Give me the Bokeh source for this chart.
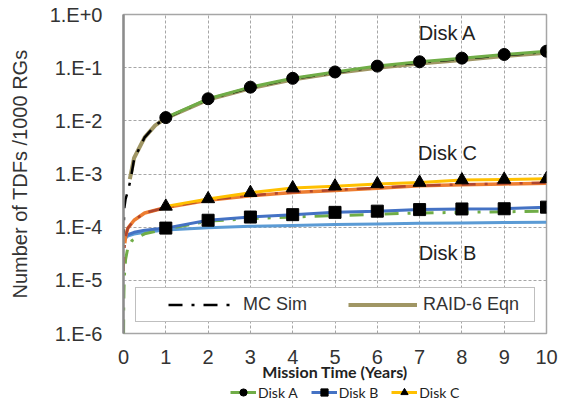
from bokeh.plotting import figure
from bokeh.layouts import column
from bokeh.models import Range1d, FixedTicker, Legend, LegendItem, Label
from bokeh.embed import file_html
from bokeh.resources import INLINE

# ---------------- data ----------------
x_ticks = [0, 1, 2, 3, 4, 5, 6, 7, 8, 9, 10]
y_ticks = [1e-6, 1e-5, 1e-4, 1e-3, 1e-2, 1e-1, 1.0]
y_tick_labels = ["1.E-6", "1.E-5", "1.E-4", "1.E-3", "1.E-2", "1.E-1", "1.E+0"]

years = [1, 2, 3, 4, 5, 6, 7, 8, 9, 10]

# Disk A
a_marker_y = [0.0115, 0.026, 0.043, 0.063, 0.083, 0.107, 0.129, 0.151, 0.177, 0.204]
a_eqn_t = [0.15, 0.25, 0.5, 0.75, 1, 2, 3, 4, 5, 6, 7, 8, 9, 10]
a_eqn_y = [8e-4, 2e-3, 4.9e-3, 8.2e-3, 0.0112, 0.025, 0.041, 0.060, 0.079, 0.100, 0.120, 0.140, 0.165, 0.190]
a_mc_t = [0.003, 0.01, 0.02, 0.05, 0.1, 0.17, 0.25, 0.5, 0.75, 1, 2, 3, 4, 5, 6, 7, 8, 9, 10]
a_mc_y = [5e-5, 1.3e-4, 2.3e-4, 3.4e-4, 4.6e-4, 8e-4, 1.9e-3, 4.9e-3, 8.2e-3, 0.0113,
          0.0255, 0.042, 0.062, 0.081, 0.104, 0.125, 0.147, 0.172, 0.198]

# Disk B
b_line_t = [0.05, 0.1, 0.25, 0.5, 1, 2, 3, 4, 5, 6, 7, 8, 9, 10]
b_line_y = [6.5e-5, 7.2e-5, 8.0e-5, 8.8e-5, 9.6e-5, 1.35e-4, 1.55e-4, 1.72e-4, 1.9e-4,
            2.0e-4, 2.14e-4, 2.2e-4, 2.22e-4, 2.38e-4]
b_marker_y = [9.6e-5, 1.35e-4, 1.55e-4, 1.72e-4, 1.9e-4, 2.0e-4, 2.14e-4, 2.2e-4, 2.22e-4, 2.38e-4]
b_eqn_t = [0.05, 0.1, 0.25, 0.5, 1, 2, 3, 4, 5, 6, 7, 8, 9, 10]
b_eqn_y = [6.2e-5, 6.8e-5, 7.4e-5, 8.0e-5, 8.8e-5, 9.8e-5, 1.04e-4, 1.08e-4, 1.12e-4,
           1.15e-4, 1.18e-4, 1.2e-4, 1.22e-4, 1.24e-4]
b_mc_t = [0.002, 0.005, 0.01, 0.02, 0.05, 0.1, 0.2, 0.5, 1, 2, 3, 4, 5, 6, 7, 8, 9, 10]
b_mc_y = [1e-6, 3e-6, 6e-6, 1.2e-5, 2.5e-5, 4e-5, 5.6e-5, 7.5e-5, 9.2e-5, 1.3e-4, 1.45e-4,
          1.55e-4, 1.65e-4, 1.75e-4, 1.85e-4, 1.9e-4, 1.95e-4, 2.0e-4]

# Disk C
c_marker_y = [2.46e-4, 3.4e-4, 4.45e-4, 5.45e-4, 5.9e-4, 6.5e-4, 6.9e-4, 7.7e-4, 7.9e-4, 8.1e-4]
c_eqn_t = [0.03, 0.05, 0.1, 0.25, 0.5, 1, 2, 3, 4, 5, 6, 7, 8, 9, 10]
c_eqn_y = [5e-5, 6.7e-5, 9.5e-5, 1.35e-4, 1.85e-4, 2.35e-4, 3.2e-4, 3.9e-4, 4.5e-4, 4.9e-4,
           5.4e-4, 6.0e-4, 6.3e-4, 6.5e-4, 6.7e-4]
c_mc_t = [0.003, 0.01, 0.03, 0.05, 0.1, 0.25, 0.5, 1, 2, 3, 4, 5, 6, 7, 8, 9, 10]
c_mc_y = [1.5e-5, 2.5e-5, 5e-5, 6.7e-5, 9.5e-5, 1.35e-4, 1.85e-4, 2.35e-4, 3.25e-4, 3.95e-4,
          4.55e-4, 5.0e-4, 5.5e-4, 6.05e-4, 6.35e-4, 6.6e-4, 6.85e-4]

legend_labels = ["Disk A", "Disk B", "Disk C"]

# ---------------- styling ----------------
GREEN = "#70AD47"
KHAKI = "#A09664"
BLUE = "#4472C4"
LBLUE = "#5B9BD5"
GOLD = "#FFC000"
ORANGE = "#ED7D31"
DRED = "#B0462E"
TXT = "#333333"
DASHDOT = "14 9 3 9"

p = figure(width=574, height=383, x_range=Range1d(0, 10), y_range=Range1d(1e-6, 1),
           y_axis_type="log", output_backend="svg", toolbar_location=None,
           min_border_left=123, min_border_right=28, min_border_top=14, min_border_bottom=50)
p.background_fill_color = "white"
p.border_fill_color = "white"
p.outline_line_color = "#A6A6A6"
p.outline_line_width = 1.5

# grids
p.xgrid.ticker = FixedTicker(ticks=x_ticks)
p.ygrid.ticker = FixedTicker(ticks=y_ticks)
for g in (p.xgrid, p.ygrid):
    g.grid_line_color = "#A6A6A6"
    g.grid_line_dash = "3 2"
    g.grid_line_width = 1

# axes
p.xaxis.ticker = FixedTicker(ticks=x_ticks)
p.yaxis.ticker = FixedTicker(ticks=y_ticks)
p.yaxis.major_label_overrides = dict(zip(y_ticks, y_tick_labels))
for ax in (p.xaxis, p.yaxis):
    ax.major_tick_in = 0
    ax.major_tick_out = 0
    ax.minor_tick_in = 0
    ax.minor_tick_out = 0
    ax.major_label_text_font = "Liberation Sans"
    ax.major_label_text_font_size = "20px"
    ax.major_label_text_color = TXT
p.xaxis.axis_line_color = None
p.yaxis.axis_line_color = "#8C8C8C"
p.yaxis.axis_line_width = 2.5
p.xaxis.major_label_standoff = 16
p.yaxis.major_label_standoff = 21

p.yaxis.axis_label = "Number of TDFs /1000 RGs"
p.yaxis.axis_label_text_font = "Liberation Sans"
p.yaxis.axis_label_text_font_size = "20px"
p.yaxis.axis_label_text_font_style = "normal"
p.yaxis.axis_label_text_color = TXT
p.yaxis.axis_label_standoff = 16

p.xaxis.axis_label = "Mission Time (Years)"
p.xaxis.axis_label_text_font = "Lato"
p.xaxis.axis_label_text_font_size = "16px"
p.xaxis.axis_label_text_font_style = "bold"
p.xaxis.axis_label_text_color = "#222222"
p.xaxis.axis_label_standoff = -5

# ---------------- lines ----------------
# Disk A
r_a_eqn = p.line(a_eqn_t, a_eqn_y, line_color=KHAKI, line_width=4)
r_a_mc = p.line(a_mc_t, a_mc_y, line_color="black", line_width=2.5, line_dash=DASHDOT)
p.line(years, a_marker_y, line_color=GREEN, line_width=3)

# Disk B
p.line(b_eqn_t, b_eqn_y, line_color=LBLUE, line_width=3)
p.line(b_mc_t, b_mc_y, line_color=GREEN, line_width=3, line_dash=DASHDOT)
p.line(b_line_t, b_line_y, line_color=BLUE, line_width=3)

# Disk C
p.line(c_eqn_t, c_eqn_y, line_color=ORANGE, line_width=3.5)
p.line(c_mc_t, c_mc_y, line_color=DRED, line_width=2.5, line_dash=DASHDOT)
p.line(years, c_marker_y, line_color=GOLD, line_width=3)

# markers
p.scatter(years, a_marker_y, marker="circle", size=12, fill_color="black", line_color="black")
p.scatter(years, b_marker_y, marker="square", size=12, fill_color="black", line_color="black")
p.scatter(years, c_marker_y, marker="triangle", size=13, fill_color="black", line_color="black")

# curve labels
for txt, xx, yy in (("Disk A", 7.66, 0.44), ("Disk C", 7.66, 2.45e-3), ("Disk B", 7.66, 3.2e-5)):
    p.add_layout(Label(x=xx, y=yy, text=txt, text_align="center", text_baseline="middle",
                       text_font="Liberation Sans", text_font_size="20px", text_color="#222222"))

# in-plot legend
inner = Legend(items=[LegendItem(label="MC Sim", renderers=[r_a_mc]),
                      LegendItem(label="RAID-6 Eqn", renderers=[r_a_eqn])],
               location=(12, 11), orientation="horizontal",
               padding=6, margin=0, spacing=0,
               glyph_width=69, glyph_height=5, label_height=5, label_width=105,
               label_standoff=6,
               title=" ", title_location="left", title_text_font_size="10px", title_standoff=15,
               label_text_font="Liberation Sans", label_text_font_size="18px",
               label_text_color=TXT,
               border_line_color="#7F7F7F", border_line_width=1,
               background_fill_color="white", background_fill_alpha=1)
p.add_layout(inner)

# ---------------- series legend strip below ----------------
p2 = figure(width=574, height=18, x_range=Range1d(-2, -1), y_range=Range1d(0, 1),
            output_backend="svg", toolbar_location=None, min_border=0,
            x_axis_location=None, y_axis_location=None)
p2.grid.visible = False
p2.outline_line_color = None
p2.background_fill_color = "white"
p2.border_fill_color = "white"
items = []
for lab, col, mk, ys in zip(legend_labels, (GREEN, BLUE, GOLD), ("circle", "square", "triangle"),
                            (a_marker_y, b_marker_y, c_marker_y)):
    rl = p2.line(years, ys, line_color=col, line_width=3)
    rm = p2.scatter(years, ys, marker=mk, size=10, fill_color="black", line_color="black")
    items.append(LegendItem(label=lab, renderers=[rl, rm]))
outer = Legend(items=items, location=(107, 0), orientation="horizontal",
               padding=0, margin=0, spacing=13,
               glyph_width=26, glyph_height=18, label_height=18, label_standoff=2,
               label_text_font="Lato", label_text_font_size="14px", label_text_color="#222222",
               border_line_color=None, background_fill_alpha=0)
p2.add_layout(outer)

open("out.html", "w").write(file_html(column(p, p2, spacing=0), INLINE))
